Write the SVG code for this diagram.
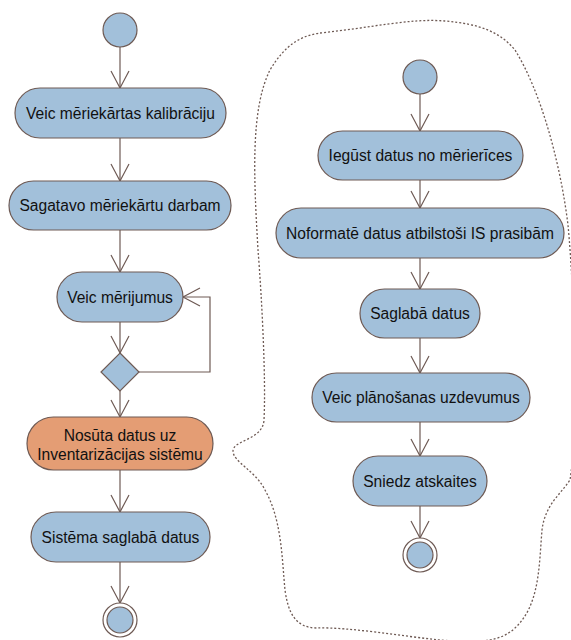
<svg xmlns="http://www.w3.org/2000/svg" width="571" height="640" viewBox="0 0 571 640">
<style>
.n{fill:#a2c0da;stroke:#6e5a54;stroke-width:1.2}
.o{fill:#e49d74;stroke:#6e5a54;stroke-width:1.2}
.e{fill:none;stroke:#6e5a54;stroke-width:1.2}
.t{font-family:"Liberation Sans",Arial,sans-serif;font-size:15.6px;fill:#111;text-anchor:middle}
.blob{fill:none;stroke:#6e5a54;stroke-width:1.3;stroke-dasharray:2,2}
</style>
<defs>
<marker id="a" markerUnits="userSpaceOnUse" markerWidth="20" markerHeight="20" refX="17" refY="9" orient="auto" overflow="visible">
<path d="M0,0 L17,9 L0,18" fill="none" stroke="#6e5a54" stroke-width="1.2"/>
</marker>
</defs>
<path class="blob" d="M320,33 C370,28 410,18 445,21 C480,24 500,32 515,50 C540,90 560,160 568,225 C575,300 578,430 570,480 C560,495 545,505 542,530 C539,565 540,605 515,628 C500,642 480,643 440,640 C400,636 350,627 317,628 C295,628 288,612 285,590 C282,560 282,520 265,490 C255,470 233,462 233,451 C233,440 263,440 264,420 C266,380 262,300 258,250 C254,180 250,110 270,70 C285,45 300,36 320,33 Z"/>
<g id="connectors">
<line class="e" x1="120" y1="47" x2="120" y2="88" marker-end="url(#a)"/>
<line class="e" x1="120" y1="138" x2="120" y2="181" marker-end="url(#a)"/>
<line class="e" x1="120" y1="230" x2="120" y2="272" marker-end="url(#a)"/>
<line class="e" x1="120" y1="322" x2="120" y2="353" marker-end="url(#a)"/>
<polyline class="e" points="139,372 210,372 210,297 183,297" marker-end="url(#a)"/>
<line class="e" x1="120" y1="391" x2="120" y2="417" marker-end="url(#a)"/>
<line class="e" x1="120" y1="470" x2="120" y2="512" marker-end="url(#a)"/>
<line class="e" x1="120" y1="562" x2="120" y2="603" marker-end="url(#a)"/>
<line class="e" x1="420" y1="94" x2="420" y2="131" marker-end="url(#a)"/>
<line class="e" x1="420" y1="180" x2="420" y2="208" marker-end="url(#a)"/>
<line class="e" x1="420" y1="258" x2="420" y2="289" marker-end="url(#a)"/>
<line class="e" x1="420" y1="338" x2="420" y2="373" marker-end="url(#a)"/>
<line class="e" x1="420" y1="422" x2="420" y2="456" marker-end="url(#a)"/>
<line class="e" x1="420" y1="506" x2="420" y2="538" marker-end="url(#a)"/>
</g>
<g id="start1"><circle class="n" cx="120" cy="30" r="17"/></g>
<g id="n1"><rect class="n" x="15" y="88" width="211" height="50" rx="25"/><text class="t" x="120.5" y="118.5">Veic mēriekārtas kalibrāciju</text></g>
<g id="n2"><rect class="n" x="9" y="181" width="222" height="49" rx="24.5"/><text class="t" x="120" y="211">Sagatavo mēriekārtu darbam</text></g>
<g id="n3"><rect class="n" x="57" y="272" width="126" height="50" rx="25"/><text class="t" x="120" y="302.5">Veic mērijumus</text></g>
<g id="d1"><polygon class="n" points="120,353 139,372 120,391 101,372"/></g>
<g id="n4"><rect class="o" x="27" y="417" width="186" height="53" rx="26.5"/><text class="t" x="120" y="440.5">Nosūta datus uz</text><text class="t" x="120" y="459.5">Inventarizācijas sistēmu</text></g>
<g id="n5"><rect class="n" x="31" y="512" width="179" height="50" rx="25"/><text class="t" x="120.5" y="542.5">Sistēma saglabā datus</text></g>
<g id="end1"><circle cx="120" cy="620" r="17" fill="#fff" stroke="#6e5a54" stroke-width="1.2"/><circle class="n" cx="120" cy="620" r="13"/></g>
<g id="start2"><circle class="n" cx="420" cy="77" r="17"/></g>
<g id="r1"><rect class="n" x="318" y="131" width="205" height="49" rx="24.5"/><text class="t" x="420.5" y="161">Iegūst datus no mērierīces</text></g>
<g id="r2"><rect class="n" x="276" y="208" width="288" height="50" rx="25"/><text class="t" x="420" y="238.5">Noformatē datus atbilstoši IS prasibām</text></g>
<g id="r3"><rect class="n" x="360" y="289" width="120" height="49" rx="24.5"/><text class="t" x="420" y="319">Saglabā datus</text></g>
<g id="r4"><rect class="n" x="312" y="373" width="218" height="49" rx="24.5"/><text class="t" x="421" y="403">Veic plānošanas uzdevumus</text></g>
<g id="r5"><rect class="n" x="353" y="456" width="134" height="50" rx="25"/><text class="t" x="420" y="486.5">Sniedz atskaites</text></g>
<g id="end2"><circle cx="420" cy="555" r="17" fill="#fff" stroke="#6e5a54" stroke-width="1.2"/><circle class="n" cx="420" cy="555" r="13"/></g>
</svg>
